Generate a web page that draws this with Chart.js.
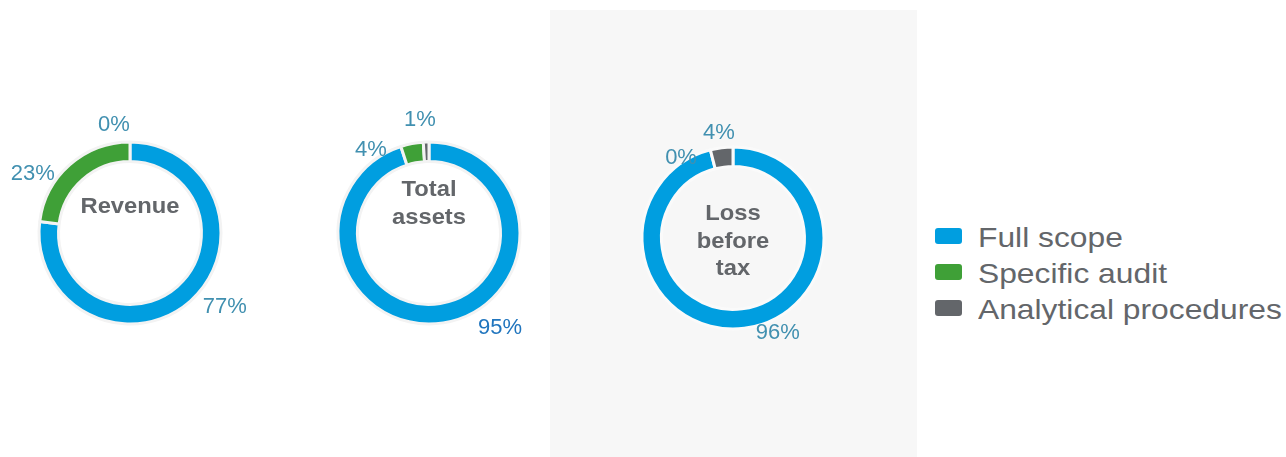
<!DOCTYPE html>
<html>
<head>
<meta charset="utf-8">
<script src="https://cdn.jsdelivr.net/npm/chart.js@4"></script>
<style>
  html, body { margin:0; padding:0; width:1286px; height:457px; overflow:hidden; background:#ffffff; }
  body { position:relative; font-family:"Liberation Sans", Arial, sans-serif; }
  #panel { position:absolute; left:550px; top:10px; width:367px; height:447px; background:#f7f7f7; }
  .donut { position:absolute; width:300px; height:300px; }
  #legend { position:absolute; left:935px; top:220px; }
  .row { position:relative; height:36px; white-space:nowrap; }
  .box { position:absolute; left:0; top:8px; width:27px; height:16px; border-radius:3px; }
  .txt { position:absolute; left:43px; top:0; font-size:28px; line-height:36px; color:#63666a;
         display:inline-block; transform:scaleX(1.135); transform-origin:left center; }
</style>
</head>
<body>
<div id="panel"></div>
<canvas id="c1" class="donut" style="left:-20px; top:83px;"></canvas>
<canvas id="c2" class="donut" style="left:279px; top:83px;"></canvas>
<canvas id="c3" class="donut" style="left:583px; top:88px;"></canvas>
<div id="legend"></div>
<script>
// ---- data ----
const categories = ['Full scope', 'Specific audit', 'Analytical procedures'];
const revenueValues = [77, 23, 0];
const totalAssetsValues = [95, 4, 1];
const lossBeforeTaxValues = [96, 0, 4];
const revenueTitle = ['Revenue'];
const totalAssetsTitle = ['Total', 'assets'];
const lossBeforeTaxTitle = ['Loss', 'before', 'tax'];
const seriesColors = ['#009ee0', '#3fa037', '#63666a'];

// ---- plugin: value labels + centre title ----
const donutText = {
  id: 'donutText',
  afterDraw(chart, args, opts) {
    const ctx = chart.ctx;
    const meta = chart.getDatasetMeta(0);
    const values = chart.data.datasets[0].data;
    const first = meta.data[0];
    const cx = first.x, cy = first.y;
    ctx.save();
    // value labels
    ctx.font = '22px "Liberation Sans", Arial, sans-serif';
    ctx.textAlign = 'center';
    ctx.textBaseline = 'alphabetic';
    meta.data.forEach((arc, i) => {
      const mid = (arc.startAngle + arc.endAngle) / 2 + (opts.nudge[i] || 0) * Math.PI / 180;
      const r = opts.radius[i];
      const x = cx + r * Math.cos(mid);
      const y = cy + r * Math.sin(mid);
      ctx.fillStyle = opts.labelColors[i];
      ctx.fillText(values[i] + '%', x, y + 8);
    });
    // centre title
    ctx.font = 'bold 22px "Liberation Sans", Arial, sans-serif';
    ctx.fillStyle = '#63666a';
    opts.title.forEach((line, k) => {
      ctx.save();
      ctx.translate(cx, cy + opts.titleBaseline + k * 27.5);
      ctx.scale(1.08, 1);
      ctx.fillText(line, 0, 0);
      ctx.restore();
    });
    ctx.restore();
  }
};

function makeDonut(id, values, title, gapColor, textOpts) {
  return new Chart(document.getElementById(id), {
    type: 'doughnut',
    data: {
      labels: categories,
      datasets: [{
        data: values,
        backgroundColor: seriesColors,
        borderColor: gapColor,
        borderWidth: 3,
        hoverOffset: 0
      }]
    },
    options: {
      responsive: false,
      animation: false,
      radius: 91,
      cutout: '78.5%',
      layout: { padding: 0 },
      events: [],
      plugins: {
        legend: { display: false },
        tooltip: { enabled: false },
        donutText: Object.assign({ title: title }, textOpts)
      }
    },
    plugins: [donutText]
  });
}

const teal = '#4190b0';
makeDonut('c1', revenueValues, revenueTitle, '#f3f3f3', {
  nudge: [-11.4, -16.4, -8.3], radius: [119, 115, 111],
  labelColors: [teal, teal, teal], titleBaseline: -20
});
makeDonut('c2', totalAssetsValues, totalAssetsTitle, '#f3f3f3', {
  nudge: [-28.4, -23.5, -2.7], radius: [117, 103, 115],
  labelColors: ['#2075be', teal, teal], titleBaseline: -37
});
makeDonut('c3', lossBeforeTaxValues, lossBeforeTaxTitle, '#fafafa', {
  nudge: [-18.6, -18, -0.3], radius: [103, 97, 108],
  labelColors: [teal, teal, teal], titleBaseline: -18
});

// ---- legend ----
const legend = document.getElementById('legend');
categories.forEach((name, i) => {
  const row = document.createElement('div');
  row.className = 'row';
  const box = document.createElement('div');
  box.className = 'box';
  box.style.background = seriesColors[i];
  const txt = document.createElement('span');
  txt.className = 'txt';
  txt.textContent = name;
  row.appendChild(box);
  row.appendChild(txt);
  legend.appendChild(row);
});
</script>
</body>
</html>
